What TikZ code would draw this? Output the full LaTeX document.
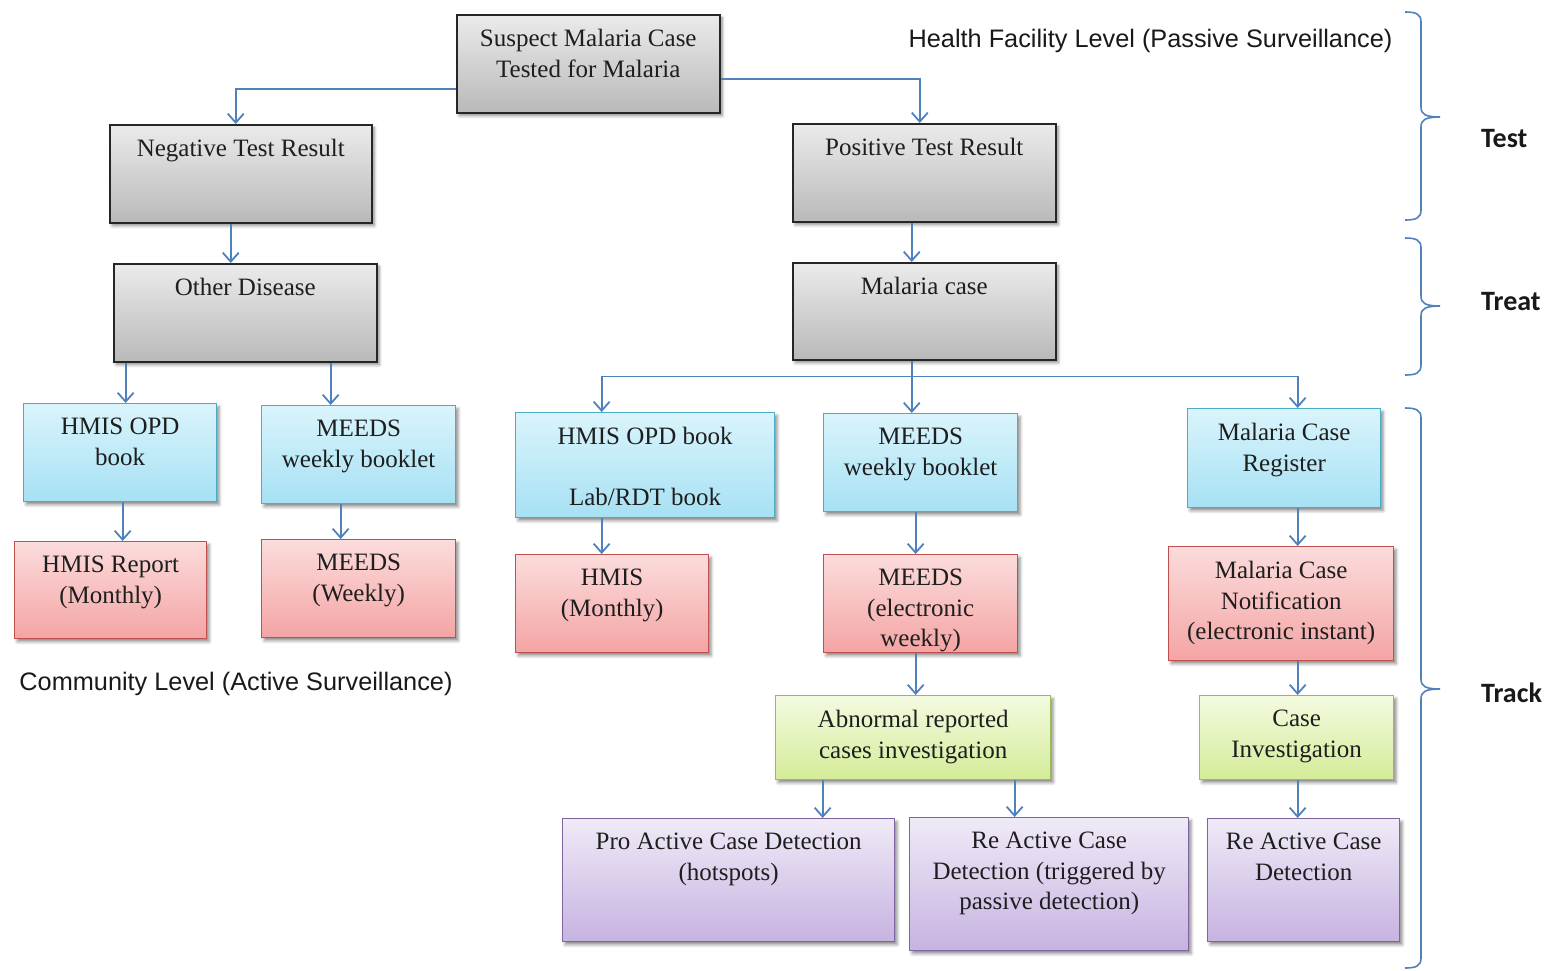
\documentclass[tikz,border=0pt]{standalone}
\usepackage{fontspec}
\setmainfont{Liberation Serif}
\newfontfamily\arialf{Liberation Sans}
\newfontfamily\calibf{Carlito}
\usetikzlibrary{arrows.meta,shadows.blur}

\definecolor{linkblue}{HTML}{4F81BD}
\definecolor{grayTop}{HTML}{EBEBEB}
\definecolor{grayBot}{HTML}{B9B9B9}
\definecolor{blueTop}{HTML}{DAF4FC}
\definecolor{blueBot}{HTML}{A6E1F4}
\definecolor{blueLine}{HTML}{4BACC6}
\definecolor{redTop}{HTML}{FCDCDC}
\definecolor{redBot}{HTML}{F4A4A4}
\definecolor{redLine}{HTML}{C0504D}
\definecolor{greenTop}{HTML}{F3FAE0}
\definecolor{greenBot}{HTML}{D4EC98}
\definecolor{greenLine}{HTML}{9BBB59}
\definecolor{purpTop}{HTML}{F0EAF7}
\definecolor{purpBot}{HTML}{C6B3E1}
\definecolor{purpLine}{HTML}{8064A2}
\definecolor{inktext}{HTML}{1E1E1E}

% one box of the flow chart: name, style, left, top, width, height, text
\newcommand\flowbox[7]{%
  \node[#2, minimum width=#5pt, minimum height=#6pt, anchor=north west] (#1) at (#3,#4) {};
  \node[boxtext, anchor=north] (#1-t) at ([yshift=-15pt]#1.north) {#7};
}
% right curly brace: top, tip, bottom
\newcommand\sidebrace[3]{%
  \draw[bracestyle] (1405,#1) .. controls (1416,#1) and (1421,#1+2) .. (1421,#1+10)
    -- (1421,#2-10) .. controls (1421,#2-3) and (1425,#2) .. (1440,#2)
    .. controls (1425,#2) and (1421,#2+3) .. (1421,#2+10)
    -- (1421,#3-10) .. controls (1421,#3-2) and (1416,#3) .. (1405,#3);
}

\begin{document}
\begin{tikzpicture}[x=1pt,y=-1pt,
  base/.style={draw, line width=1.3pt, rectangle, inner sep=0pt,
    blur shadow={shadow xshift=2.5pt, shadow yshift=-3pt, shadow blur radius=3pt, shadow opacity=45}},
  graybox/.style={base, draw=black!85, line width=1.5pt, top color=grayTop, bottom color=grayBot},
  bluebox/.style={base, draw=blueLine, top color=blueTop, bottom color=blueBot},
  redbox/.style={base, draw=redLine, top color=redTop, bottom color=redBot},
  greenbox/.style={base, draw=greenLine, top color=greenTop, bottom color=greenBot},
  purpbox/.style={base, draw=purpLine, top color=purpTop, bottom color=purpBot},
  boxtext/.style={inner sep=0pt, align=center, text=inktext,
    font=\fontsize{25}{30.5}\selectfont},
  conn/.style={draw=linkblue, line width=1.8pt,
    -{Straight Barb[length=9pt,width=16pt,line width=1.8pt]}},
  trunk/.style={draw=linkblue, line width=1.8pt},
  bracestyle/.style={draw=linkblue, line width=1.6pt},
  sidelabel/.style={inner sep=0pt, font=\arialf\fontsize{25.3}{30}\selectfont, text=black!90},
  phase/.style={inner sep=0pt, anchor=west, font=\calibf\bfseries\fontsize{28}{32}\selectfont, text=black!90}
]
\useasboundingbox (0,0) rectangle (1551,970);

% ---- test / treat ----
\flowbox{sus}{graybox}{456}{14}{263}{98}{Suspect Malaria Case\\Tested for Malaria}
\flowbox{neg}{graybox}{109}{124}{262}{98}{Negative Test Result}
\flowbox{pos}{graybox}{792}{123}{263}{98}{Positive Test Result}
\flowbox{oth}{graybox}{113}{263}{263}{98}{Other Disease}
\flowbox{mal}{graybox}{792}{262}{263}{97}{Malaria case}

% ---- registers ----
\flowbox{hl}{bluebox}{23}{403}{193}{98}{HMIS OPD\\book}
\flowbox{ml}{bluebox}{261}{405}{194}{98}{MEEDS\\weekly booklet}
\flowbox{hm}{bluebox}{515}{412}{259}{105}{HMIS OPD book\\~\\Lab/RDT book}
\flowbox{mm}{bluebox}{823}{413}{194}{98}{MEEDS\\weekly booklet}
\flowbox{reg}{bluebox}{1187}{408}{193}{99}{Malaria Case\\Register}

% ---- reports ----
\flowbox{hr}{redbox}{14}{541}{192}{97}{HMIS Report\\(Monthly)}
\flowbox{mw}{redbox}{261}{539}{194}{98}{MEEDS\\(Weekly)}
\flowbox{hmo}{redbox}{515}{554}{193}{98}{HMIS\\(Monthly)}
\flowbox{me}{redbox}{823}{554}{194}{98}{MEEDS\\(electronic\\weekly)}
\flowbox{nt}{redbox}{1168}{546}{225}{114}{Malaria Case\\Notification\\(electronic instant)}

% ---- investigation ----
\flowbox{abn}{greenbox}{775}{695}{275}{84}{Abnormal reported\\cases investigation}
\flowbox{ci}{greenbox}{1199}{695}{194}{84}{Case\\Investigation}

% ---- response ----
\flowbox{pro}{purpbox}{562}{818}{332}{123}{Pro Active Case Detection\\(hotspots)}
\flowbox{rea}{purpbox}{909}{817}{279}{133}{Re Active Case\\Detection (triggered by\\passive detection)}
\flowbox{reb}{purpbox}{1207}{818}{192}{123}{Re Active Case\\Detection}

% ---- connectors ----
\draw[conn] ([yshift=-25pt]sus.west) -| ([xshift=-5pt]neg.north);
\draw[conn] ([yshift=-15pt]sus.east) -| ([xshift=-4.5pt]pos.north);
\draw[conn] ([xshift=-10pt]neg.south) -- ([xshift=-10pt]neg.south |- oth.north);
\draw[conn] ([xshift=-12.5pt]pos.south) -- ([xshift=-12.5pt]pos.south |- mal.north);
\draw[conn] ([xshift=5.5pt]hl.north |- oth.south) -- ([xshift=5.5pt]hl.north);
\draw[conn] ([xshift=-28pt]ml.north |- oth.south) -- ([xshift=-28pt]ml.north);

\coordinate (fork) at ([xshift=-12.5pt,yshift=-16pt]mal.south);
\draw[trunk] ([xshift=-12.5pt]mal.south) -- (fork);
\draw[conn] (fork) -| ([xshift=-43.5pt]hm.north);
\draw[conn] (fork) -| ([xshift=13.5pt]reg.north);
\draw[conn] (fork) -- (fork |- mm.north);

\draw[conn] ([xshift=2.5pt]hl.south) -- ([xshift=2.5pt]hl.south |- hr.north);
\draw[conn] ([xshift=-18pt]ml.south) -- ([xshift=-18pt]ml.south |- mw.north);
\draw[conn] ([xshift=-43.5pt]hm.south) -- ([xshift=-43.5pt]hm.south |- hmo.north);
\draw[conn] ([xshift=-5pt]mm.south) -- ([xshift=-5pt]mm.south |- me.north);
\draw[conn] ([xshift=13.5pt]reg.south) -- ([xshift=13.5pt]reg.south |- nt.north);
\draw[conn] ([xshift=-5pt]me.south) -- ([xshift=-5pt]me.south |- abn.north);
\draw[conn] ([xshift=1pt]ci.north |- nt.south) -- ([xshift=1pt]ci.north);
\draw[conn] ([xshift=94pt]pro.north |- abn.south) -- ([xshift=94pt]pro.north);
\draw[conn] ([xshift=-34.5pt]rea.north |- abn.south) -- ([xshift=-34.5pt]rea.north);
\draw[conn] ([xshift=1pt]ci.south) -- ([xshift=1pt]ci.south |- reb.north);

% ---- level captions ----
\node[sidelabel] (hfl) at (1150.5,41) {Health Facility Level (Passive Surveillance)};
\node[sidelabel] (cml) at (236,684) {Community Level (Active Surveillance)};

% ---- phase braces ----
\sidebrace{12}{117}{220}
\sidebrace{238}{306}{375}
\sidebrace{408}{689}{968}
\node[phase] (ptest) at (1481,139) {Test};
\node[phase] (ptreat) at (1481,302) {Treat};
\node[phase] (ptrack) at (1481,693) {Track};
\end{tikzpicture}
\end{document}
